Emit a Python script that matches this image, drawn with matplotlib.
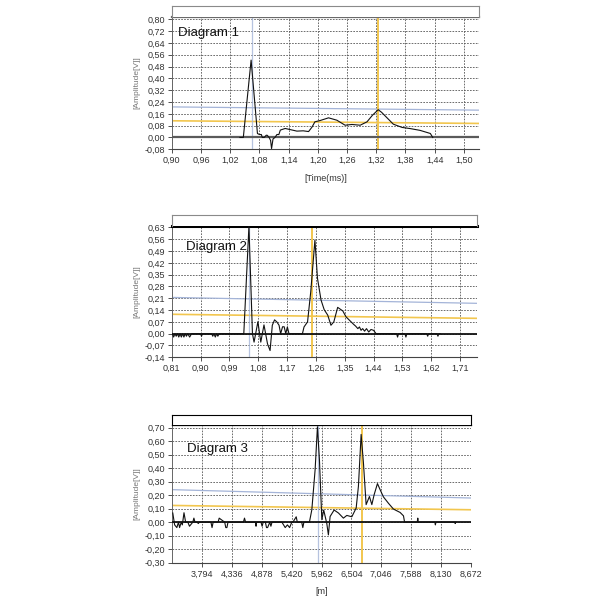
import numpy as np
import matplotlib
matplotlib.use("Agg")
import matplotlib.pyplot as plt
from matplotlib.ticker import FixedLocator, FuncFormatter

plt.rcParams['font.family'] = ['Liberation Sans', 'DejaVu Sans']

# ---------------------------------------------------------------------------
# data
# ---------------------------------------------------------------------------

# Diagram 1  (time in ms)
d1_x = [1.040, 1.047, 1.063, 1.076, 1.080, 1.084, 1.086, 1.090, 1.094, 1.096,
        1.100, 1.103, 1.105, 1.108, 1.112, 1.116, 1.120, 1.123, 1.133, 1.145,
        1.157, 1.170, 1.181, 1.188, 1.194, 1.205, 1.222, 1.239, 1.256, 1.270,
        1.287, 1.301, 1.312, 1.324, 1.331, 1.343, 1.355, 1.373, 1.390, 1.410,
        1.431, 1.436]
d1_y = [0.0, 0.0, 0.524, 0.027, 0.020, 0.020, 0.0, 0.0, 0.015, 0.015,
        0.0, -0.02, -0.075, -0.01, 0.0, 0.02, 0.02, 0.050, 0.061, 0.052,
        0.043, 0.045, 0.040, 0.070, 0.106, 0.115, 0.133, 0.117, 0.083, 0.088,
        0.083, 0.106, 0.150, 0.188, 0.170, 0.130, 0.090, 0.068, 0.060, 0.048,
        0.027, 0.0]
d1_blue = [0.207, 0.185]
d1_yellow = [0.113, 0.095]
d1_vblue = 1.065
d1_vyellow = 1.324
d1_xticks = [0.90, 0.96, 1.02, 1.08, 1.14, 1.20, 1.26, 1.32, 1.38, 1.44, 1.50]
d1_yticks = [-0.08, 0.00, 0.08, 0.16, 0.24, 0.32, 0.40, 0.48, 0.56, 0.64, 0.72, 0.80]

# Diagram 2
d2_x = [0.812, 0.816, 0.820, 0.824, 0.828, 0.832, 0.836, 0.840, 0.844, 0.848,
        0.852, 0.856, 0.860, 0.866, 0.872, 0.900, 0.903, 0.906, 0.935, 0.938,
        0.942, 0.946, 0.950, 0.954, 0.958, 1.035, 1.051, 1.062, 1.067, 1.072,
        1.079, 1.088, 1.098, 1.109, 1.117, 1.124, 1.131, 1.138, 1.145, 1.150,
        1.156, 1.161, 1.166, 1.171, 1.176, 1.218, 1.223, 1.234, 1.244, 1.257,
        1.265, 1.276, 1.286, 1.297, 1.307, 1.316, 1.328, 1.344, 1.354, 1.362,
        1.370, 1.378, 1.384, 1.391, 1.396, 1.401, 1.406, 1.412, 1.418, 1.425,
        1.432, 1.440, 1.448, 1.512, 1.515, 1.518, 1.538, 1.541, 1.544, 1.606,
        1.609, 1.612, 1.638, 1.641, 1.644, 1.648]
d2_y = [0.0, -0.02, 0.0, -0.015, 0.0, -0.02, 0.0, -0.02, 0.0, -0.02,
        0.0, -0.015, 0.0, -0.02, 0.0, 0.0, -0.015, 0.0, 0.0, -0.015,
        0.0, -0.02, 0.0, -0.015, 0.0, 0.0, 0.636, 0.0, -0.05, 0.0,
        0.071, -0.05, 0.052, -0.06, -0.10, 0.05, 0.082, 0.07, 0.05, 0.0,
        0.041, 0.041, 0.0, 0.040, 0.0, 0.0, 0.040, 0.070, 0.249, 0.555,
        0.328, 0.200, 0.142, 0.110, 0.050, 0.070, 0.156, 0.135, 0.100, 0.085,
        0.070, 0.055, 0.045, 0.030, 0.040, 0.020, 0.030, 0.015, 0.030, 0.010,
        0.025, 0.020, 0.0, 0.0, -0.02, 0.0, 0.0, -0.02, 0.0, 0.0,
        -0.015, 0.0, 0.0, -0.015, 0.0, 0.0]
d2_blue = [0.215, 0.180]
d2_yellow = [0.115, 0.091]
d2_vblue = 1.051
d2_vyellow = 1.249
d2_xticks = [0.81, 0.90, 0.99, 1.08, 1.17, 1.26, 1.35, 1.44, 1.53, 1.62, 1.71]
d2_yticks = [-0.14, -0.07, 0.00, 0.07, 0.14, 0.21, 0.28, 0.35, 0.42, 0.49, 0.56, 0.63]

# Diagram 3  (distance in m)
d3_x = [3.256, 3.290, 3.330, 3.360, 3.380, 3.410, 3.430, 3.460, 3.490, 3.530,
        3.560, 3.620, 3.640, 3.660, 3.700, 3.720, 3.740, 3.950, 3.970, 3.990,
        4.080, 4.100, 4.200, 4.220, 4.240, 4.260, 4.540, 4.560, 4.580, 4.600,
        4.760, 4.770, 4.780, 4.860, 4.880, 4.900, 4.940, 4.960, 4.980, 5.020,
        5.040, 5.060, 5.080, 5.240, 5.300, 5.340, 5.380, 5.420, 5.440, 5.500,
        5.520, 5.600, 5.620, 5.640, 5.700, 5.740, 5.784, 5.844, 5.886, 5.922,
        5.966, 6.000, 6.056, 6.085, 6.116, 6.189, 6.268, 6.358, 6.420, 6.511,
        6.590, 6.631, 6.680, 6.722, 6.771, 6.831, 6.875, 6.917, 6.977, 7.026,
        7.086, 7.177, 7.268, 7.389, 7.450, 7.470, 7.700, 7.710, 7.720, 8.020,
        8.030, 8.040, 8.380, 8.390, 8.400]
d3_y = [0.068, -0.02, -0.04, 0.0, -0.04, 0.0, -0.02, 0.07, 0.0, 0.0,
        -0.03, 0.0, 0.03, 0.0, 0.0, -0.01, 0.0, 0.0, -0.04, 0.0,
        0.0, 0.03, 0.0, -0.04, -0.04, 0.0, 0.0, 0.03, 0.0, 0.0,
        0.0, -0.03, 0.0, 0.0, -0.03, 0.0, 0.0, -0.04, -0.04, 0.0,
        -0.03, 0.0, 0.0, 0.0, -0.04, -0.02, -0.04, 0.0, 0.0, 0.04,
        0.0, 0.0, -0.04, 0.0, 0.0, 0.0, 0.092, 0.390, 0.707, 0.464,
        0.018, 0.090, -0.010, -0.094, 0.042, 0.090, 0.068, 0.030, 0.050, 0.040,
        0.105, 0.266, 0.650, 0.440, 0.130, 0.190, 0.130, 0.204, 0.286, 0.240,
        0.187, 0.140, 0.097, 0.072, 0.047, 0.0, 0.0, 0.03, 0.0, 0.0,
        -0.02, 0.0, 0.0, -0.01, 0.0]
d3_blue = [0.241, 0.179]
d3_yellow = [0.124, 0.092]
d3_vblue = 5.892
d3_vyellow = 6.693
d3_xticks = [3.794, 4.336, 4.878, 5.420, 5.962, 6.504, 7.046, 7.588, 8.130, 8.672]
d3_yticks = [-0.30, -0.20, -0.10, 0.00, 0.10, 0.20, 0.30, 0.40, 0.50, 0.60, 0.70]

BLUE = "#a4b4d8"
YELLOW = "#f2c64e"
GRID = "#555555"


def comma(fmt):
    return FuncFormatter(lambda v, _: (fmt % v).replace(".", ","))


def panel(fig, rect, head_h, x, y, xlim, ylim, xticks, yticks, xfmt, yfmt,
          blue, yellow, vblue, vyellow, label, label_pos, zero_col, zero_lw,
          top_col, top_lw, head_col, xlabel=None):
    ax = fig.add_axes(rect)
    ax.set_xlim(*xlim)
    ax.set_ylim(*ylim)

    ax.xaxis.set_major_locator(FixedLocator(xticks))
    ax.yaxis.set_major_locator(FixedLocator(yticks))
    ax.xaxis.set_major_formatter(comma(xfmt))
    ax.yaxis.set_major_formatter(comma(yfmt))
    ax.tick_params(labelsize=6.5, colors="#333333", length=3, width=0.6, pad=2)
    ax.grid(True, color=GRID, linestyle=(0, (2, 1.5)), linewidth=0.6)

    ax.spines["right"].set_visible(False)
    ax.spines["left"].set_color("#666666")
    ax.spines["left"].set_linewidth(0.7)
    ax.spines["bottom"].set_color("#444444")
    ax.spines["bottom"].set_linewidth(0.8)
    ax.spines["top"].set_color(top_col)
    ax.spines["top"].set_linewidth(top_lw)

    # cursor / threshold lines
    ax.plot(xlim, blue, color=BLUE, lw=0.9, zorder=2)
    ax.plot(xlim, yellow, color=YELLOW, lw=1.2, zorder=2)
    ax.axvline(vblue, color=BLUE, lw=0.9, alpha=0.8, zorder=2)
    ax.axvline(vyellow, color=YELLOW, lw=1.4, zorder=2)
    ax.axhline(0, color=zero_col, lw=zero_lw, zorder=3)

    ax.plot(x, y, color="#111111", lw=0.8, zorder=4)

    ax.text(label_pos[0], label_pos[1], label, transform=ax.transAxes,
            fontsize=9.5, color="#111111", ha="left", va="center")
    ax.set_ylabel("[Amplitude[V]]", fontsize=6, color="#777777", labelpad=3)
    if xlabel:
        ax.set_xlabel(xlabel, fontsize=6.5, color="#333333", labelpad=6)

    # empty header box above the plot
    hx = fig.add_axes([rect[0], rect[1] + rect[3], rect[2], head_h])
    hx.set_xticks([])
    hx.set_yticks([])
    for s in hx.spines.values():
        s.set_color(head_col)
        s.set_linewidth(0.8)
    hx.spines["bottom"].set_visible(False)
    return ax


fig = plt.figure(figsize=(6, 6), dpi=100)

panel(fig, [0.2862, 0.7512, 0.5122, 0.2210], 0.0178, d1_x, d1_y,
      (0.90, 1.531), (-0.08, 0.818), d1_xticks, d1_yticks, "%.2f", "%.2f",
      d1_blue, d1_yellow, d1_vblue, d1_vyellow, "Diagram 1", (0.022, 0.877),
      "#5a5a5a", 1.6, "#6a6a6a", 1.6, "#8a8a8a", xlabel="[Time(ms)]")

panel(fig, [0.2862, 0.4045, 0.5083, 0.2193], 0.0178, d2_x, d2_y,
      (0.81, 1.762), (-0.14, 0.64), d2_xticks, d2_yticks, "%.2f", "%.2f",
      d2_blue, d2_yellow, d2_vblue, d2_vyellow, "Diagram 2", (0.047, 0.84),
      "#111111", 1.3, "#000000", 2.2, "#8a8a8a")

panel(fig, [0.2862, 0.0622, 0.4983, 0.2295], 0.0167, d3_x, d3_y,
      (3.237, 8.672), (-0.30, 0.72), d3_xticks, d3_yticks, "%.3f", "%.2f",
      d3_blue, d3_yellow, d3_vblue, d3_vyellow, "Diagram 3", (0.052, 0.826),
      "#111111", 1.3, "#000000", 0.9, "#000000", xlabel="[m]")

fig.savefig("out.png", dpi=100)
